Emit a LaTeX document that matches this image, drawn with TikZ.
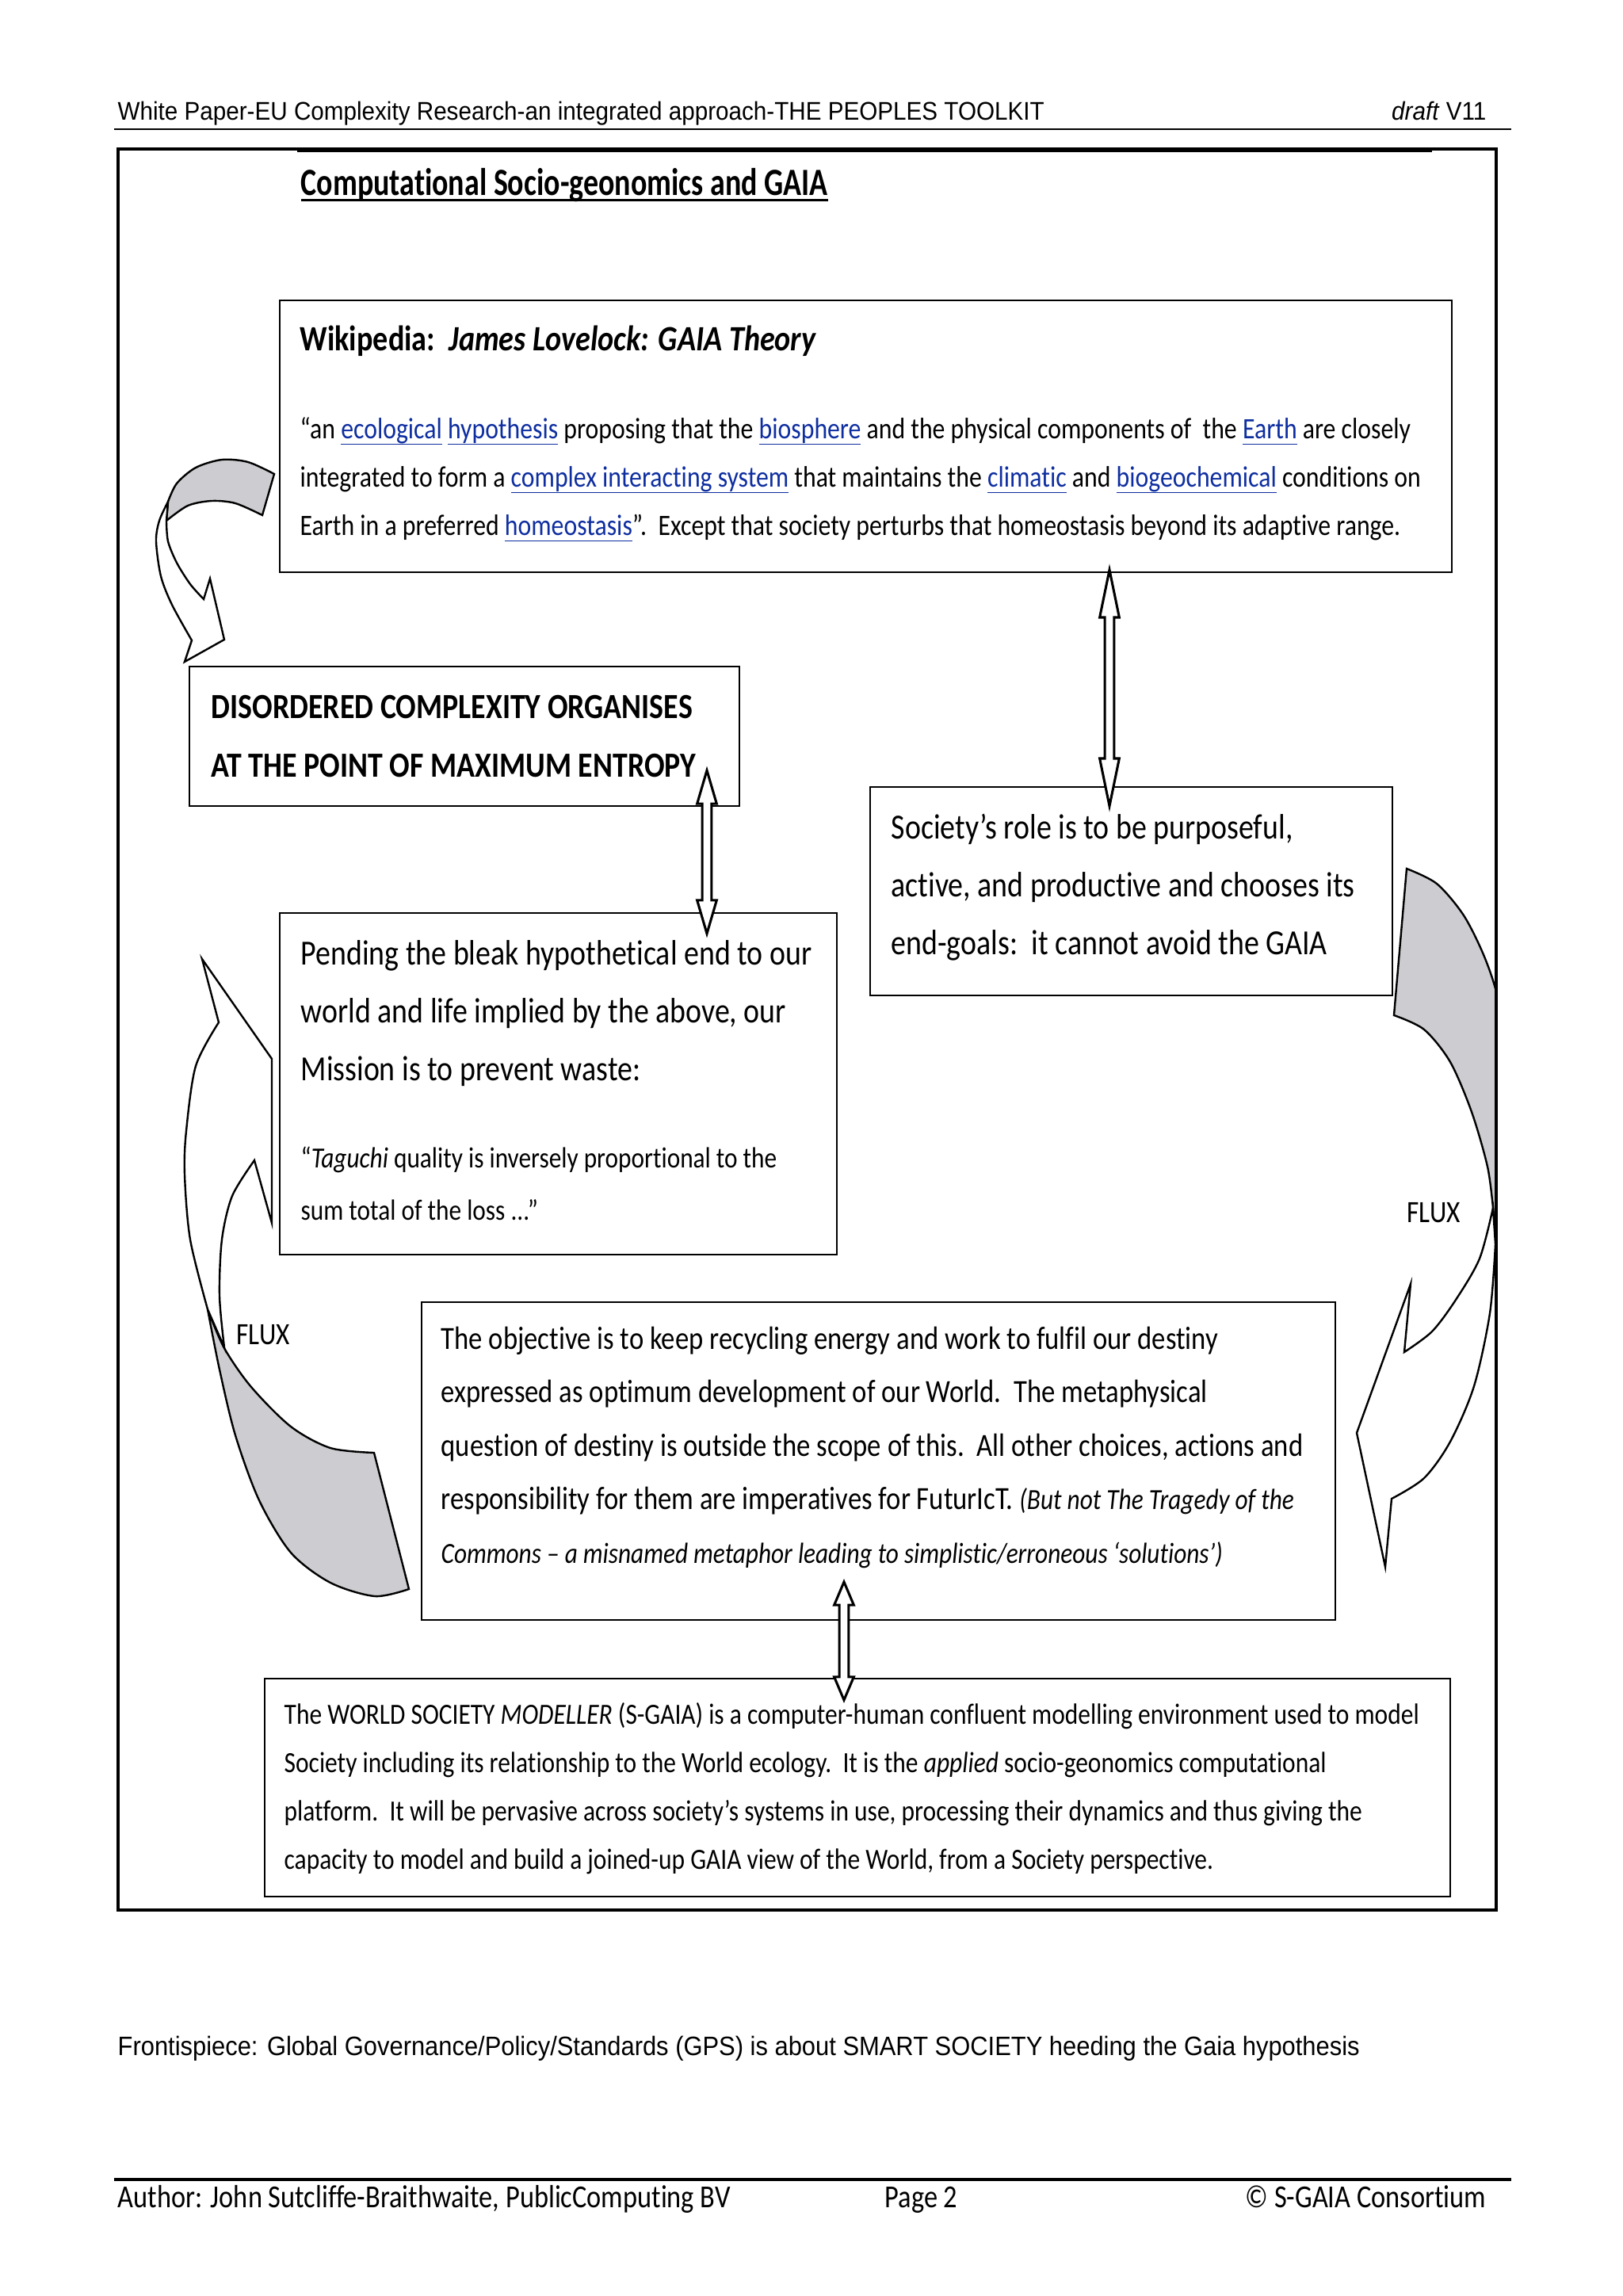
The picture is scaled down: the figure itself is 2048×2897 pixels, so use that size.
\documentclass[tikz,border=0pt]{standalone}
\usepackage{fontspec}
\setmainfont{Carlito}[FakeStretch=0.85,Ligatures={TeX,NoCommon}]
\newfontfamily\arialfont{Liberation Sans}[FakeStretch=0.92]
\newfontfamily\titlefont{Carlito}[FakeStretch=0.78,Ligatures={TeX,NoCommon}]
\usetikzlibrary{fit,calc}

\definecolor{linkblue}{RGB}{14,46,160}
\definecolor{fluxgrey}{RGB}{205,205,209}
\newsavebox\ulbox
% underline at fixed depth: depth, thickness, text
\newcommand\ulined[3]{\sbox\ulbox{#3}\rlap{\rule[-#1]{\wd\ulbox}{#2}}\usebox\ulbox}
\newcommand\wlink[1]{\textcolor{linkblue}{\ulined{2.4pt}{0.5pt}{#1}}}
\newcommand\textrows[1]{\begin{tabular}[t]{@{}l@{}}#1\end{tabular}}
% hollow two-way arrow: top, bottom, head length
\newcommand\twoway[3]{%
  \filldraw[twoway] let \p1=(#1), \p2=(#2) in
    (\p1) -- (\x1+3.6pt,\y1-#3) -- (\x1+1.7pt,\y1-#3) -- (\x1+1.7pt,\y2+#3)
    -- (\x1+3.6pt,\y2+#3) -- (\p2) -- (\x1-3.6pt,\y2+#3) -- (\x1-1.7pt,\y2+#3)
    -- (\x1-1.7pt,\y1-#3) -- (\x1-3.6pt,\y1-#3) -- cycle;}

\begin{document}
\begin{tikzpicture}[x=0.0102539cm,y=-0.0102539cm,
  box/.style={draw=black,line width=0.8pt,inner sep=0pt},
  txt/.style={anchor=base west,inner sep=0pt},
  twoway/.style={draw=black,fill=white,line width=0.9pt},
  fluxback/.style={draw=black,fill=fluxgrey,line width=0.7pt},
  fluxfront/.style={draw=black,fill=white,line width=0.7pt}]
\useasboundingbox (0,0) rectangle (2048,2897);

% page header
\node[txt,font=\arialfont\fontsize{9.4}{10}\selectfont] (head) at (148,151)
  {White Paper-EU Complexity Research-an integrated approach-THE PEOPLES TOOLKIT};
\node[txt,anchor=base east,font=\arialfont\fontsize{9.4}{10}\selectfont] (draft) at (1876,151)
  {\textit{draft} V11};
\draw[line width=0.8pt] (144,163) -- (1907,163);

% title
\node[txt,font=\titlefont\bfseries\fontsize{14.2}{16}\selectfont] (title) at (379,246)
  {\ulined{2.4pt}{0.9pt}{Computational Socio-geonomics and GAIA}};

% boxes
\node[box,fit={(353,379) (1832,722)}] (wiki) {};
\node[box,fit={(239,841) (933,1017)}] (entropy) {};
\node[box,fit={(1098,993) (1757,1256)}] (society) {};
\node[box,fit={(353,1152) (1056,1583)}] (mission) {};
\node[box,fit={(532,1643) (1685,2044)}] (objective) {};
\node[box,fit={(334,2118) (1830,2393)}] (modeller) {};

% box texts
\node[txt,font=\bfseries\fontsize{13.1}{14}\selectfont] (wikititle) at (378,442)
  {Wikipedia:\ \ \textit{James Lovelock: GAIA Theory}};
\node[txt,font=\fontsize{10.9}{17.8}\selectfont] (wikitext) at (378,553)
  {\textrows{“an \wlink{ecological} \wlink{hypothesis} proposing that the \wlink{biosphere} and the physical components of \ the \wlink{Earth} are closely\\
  integrated to form a \wlink{complex interacting system} that maintains the \wlink{climatic} and \wlink{biogeochemical} conditions on\\
  Earth in a preferred \wlink{homeostasis}”.\ \ Except that society perturbs that homeostasis beyond its adaptive range.}};
\node[txt,font=\bfseries\fontsize{13}{21.6}\selectfont] (entropytext) at (266,906)
  {\textrows{DISORDERED COMPLEXITY ORGANISES\\ AT THE POINT OF MAXIMUM ENTROPY}};
\node[txt,font=\fontsize{13}{21.4}\selectfont] (societytext) at (1124,1058)
  {\textrows{Society’s role is to be purposeful,\\ active, and productive and chooses its\\ end-goals:\ \ it cannot avoid the GAIA}};
\node[txt,font=\fontsize{13}{21.4}\selectfont] (missiontext) at (379,1217)
  {\textrows{Pending the bleak hypothetical end to our\\ world and life implied by the above, our\\ Mission is to prevent waste:}};
\node[txt,font=\fontsize{10.75}{19.3}\selectfont] (taguchi) at (379,1473)
  {\textrows{“\textit{Taguchi} quality is inversely proportional to the\\ sum total of the loss ...”}};
\node[txt,font=\fontsize{11.9}{19.7}\selectfont] (objectivetext) at (556,1702)
  {\textrows{The objective is to keep recycling energy and work to fulfil our destiny\\
  expressed as optimum development of our World.\ \ The metaphysical\\
  question of destiny is outside the scope of this.\ \ All other choices, actions and\\
  responsibility for them are imperatives for FuturIcT. {\fontsize{10.75}{12}\selectfont\textit{(But not The Tragedy of the}}\\
  {\fontsize{10.75}{12}\selectfont\textit{Commons – a misnamed metaphor leading to simplistic/erroneous ‘solutions’)}}}};
\node[txt,font=\fontsize{10.8}{17.8}\selectfont] (modellertext) at (358,2175)
  {\textrows{The WORLD SOCIETY \textit{MODELLER} (S-GAIA) is a computer-human confluent modelling environment used to model\\
  Society including its relationship to the World ecology.\ \ It is the \textit{applied} socio-geonomics computational\\
  platform.\ \ It will be pervasive across society’s systems in use, processing their dynamics and thus giving the\\
  capacity to model and build a joined-up GAIA view of the World, from a Society perspective.}};

% two-way arrows
\coordinate (gaiaup) at (1400,719);
\coordinate (gaiadown) at (1400,1017);
\coordinate (entup) at (892,972);
\coordinate (entdown) at (892,1178);
\coordinate (objup) at (1065,1996);
\coordinate (objdown) at (1065,2145);
\twoway{gaiaup}{gaiadown}{17.5pt}
\twoway{entup}{entdown}{12.3pt}
\twoway{objup}{objdown}{8.5pt}

% curved arrow, top left
\filldraw[fluxback] (346,598) -- plot[smooth] coordinates {(346,598) (313,583) (280,580) (247,590) (223,610) (212,633)}
  -- (210,657) -- plot[smooth] coordinates {(210,657) (237,638) (267,632) (297,635) (331,650)} -- cycle;
\filldraw[fluxfront] (212,633) -- plot[smooth] coordinates {(212,633) (201,657) (197,683) (203,727) (217,763) (242,808)}
  -- (233,835) -- (283,807) -- (265,730) -- (257,756)
  -- plot[smooth] coordinates {(257,756) (240,737) (223,710) (212,683) (210,657)} -- cycle;

% curved arrow, left
\filldraw[fluxback] plot[smooth] coordinates {(262,1652) (277,1728) (297,1811) (327,1893) (367,1959) (417,1997) (473,2014) (516,2005)}
  -- (472,1833) -- plot[smooth] coordinates {(472,1833) (417,1827) (367,1800) (317,1750) (283,1701) (262,1652)} -- cycle;
\filldraw[fluxfront] (255,1210) -- (343,1336) -- (343,1543) -- (321,1464)
  -- plot[smooth] coordinates {(321,1464) (293,1509) (280,1564) (277,1635) (283,1700)}
  -- (262,1652) -- plot[smooth] coordinates {(262,1652) (240,1564) (233,1482) (235,1427) (247,1345) (276,1290)} -- cycle;
\node[txt,font=\fontsize{11.4}{12}\selectfont] (fluxleft) at (298,1696) {FLUX};

% curved arrow, right
\begin{scope}
\clip (149,188) rectangle (1888,2410);
\filldraw[fluxback] plot[smooth] coordinates {(1775,1096) (1813,1115) (1847,1155) (1873,1207) (1890,1260) (1900,1340) (1902,1440) (1895,1540)}
  -- (1887,1570) -- plot[smooth] coordinates {(1884,1524) (1877,1472) (1857,1403) (1830,1340) (1797,1299) (1759,1281)} -- cycle;
\filldraw[fluxfront] plot[smooth] coordinates {(1884,1524) (1867,1588) (1837,1640) (1807,1680) (1772,1706)}
  -- (1780,1620) -- (1712,1808) -- (1748,1977) -- (1756,1891)
  -- plot[smooth] coordinates {(1756,1891) (1797,1865) (1830,1819) (1860,1749) (1880,1657) (1887,1570)} -- cycle;
\end{scope}
\node[txt,font=\fontsize{11.4}{12}\selectfont] (fluxright) at (1775,1542) {FLUX};

% frame
\draw[line width=1.1pt] (149,188) rectangle (1888,2410);
\draw[line width=1.5pt] (375,189) -- (1807,189);

% caption
\node[txt,font=\arialfont\fontsize{9.8}{11}\selectfont] (caption) at (148,2593)
  {Frontispiece: Global Governance/Policy/Standards (GPS) is about SMART SOCIETY heeding the Gaia hypothesis};

% page footer
\draw[line width=1.2pt] (144,2750) -- (1907,2750);
\node[txt,font=\fontsize{11.8}{12}\selectfont] (author) at (148,2785)
  {Author: John Sutcliffe-Braithwaite, PublicComputing BV};
\node[txt,font=\fontsize{11.8}{12}\selectfont] (page) at (1116,2785) {Page 2};
\node[txt,anchor=base east,font=\fontsize{11.8}{12}\selectfont] (consortium) at (1876,2785) {© S-GAIA Consortium};
\end{tikzpicture}
\end{document}
